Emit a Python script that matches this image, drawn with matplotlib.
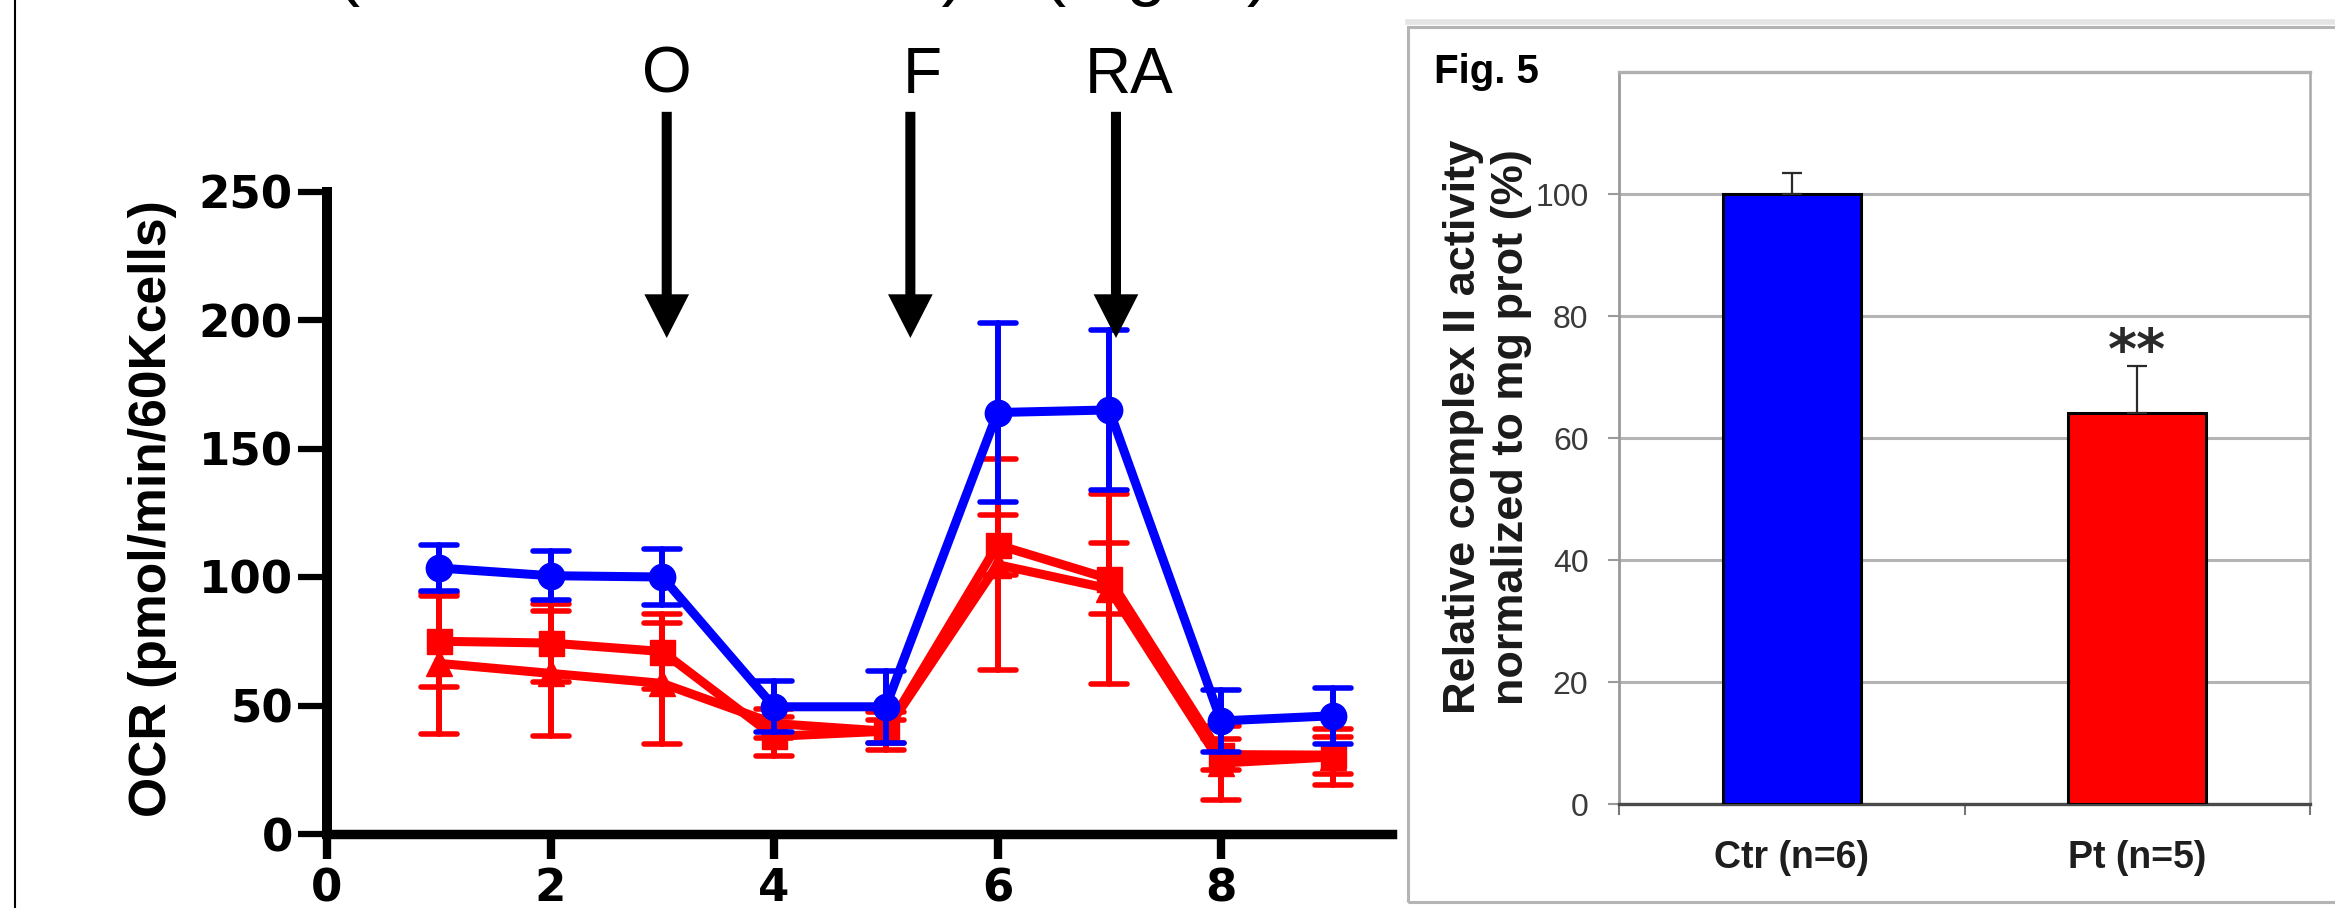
import matplotlib
matplotlib.use('Agg')
import matplotlib.pyplot as plt
from matplotlib.markers import MarkerStyle
from matplotlib.lines import Line2D
from matplotlib.patches import Rectangle

plt.rcParams['font.family'] = ['Liberation Sans', 'DejaVu Sans']

W, H = 2335, 908
DPI = 100

# ---------------- Left panel data (OCR, Seahorse trace) ----------------
timepoints = [1, 2, 3, 4, 5, 6, 7, 8, 9]
ctr_ocr = [103.5, 100.5, 100.0, 49.5, 49.5, 164, 165, 44, 46]
ctr_sem = [9, 9.5, 11, 10, 14, 35, 31, 12, 11]
pt_sq_ocr = [75, 74.3, 71, 38, 40, 112.5, 99.3, 30.9, 30.7]
pt_sq_sem = [17.7, 15, 14.5, 7.5, 7.3, 11.7, 13.8, 6, 7.2]
pt_tri_ocr = [66.4, 62.5, 58.6, 43, 40, 104.8, 95.4, 27.6, 30]
pt_tri_sem = [27.5, 24.3, 23.6, 5.5, 4.5, 41, 37, 14.4, 10.8]

ocr_yticks = [0, 50, 100, 150, 200, 250]
ocr_xticks = [0, 2, 4, 6, 8]
ocr_ylabel = 'OCR (pmol/min/60Kcells)'
injection_labels = ['O', 'F', 'RA']
injection_x = [3.04, 5.22, 7.06]
injection_label_x = [3.04, 5.33, 7.18]
title_parts = ['(Mitochondrial Test)', '(Fig. 4)']

# ---------------- Right panel data (complex II activity) ----------------
groups = ['Ctr (n=6)', 'Pt (n=5)']
activity = [100, 64.1]
activity_err = [3.4, 7.7]
activity_colors = ['#0000ff', '#ff0000']
activity_yticks = [0, 20, 40, 60, 80, 100]
activity_ylabel = ['Relative complex II activity', 'normalized to mg prot (%)']
signif = '**'

fig = plt.figure(figsize=(W / DPI, H / DPI), dpi=DPI)


def fx(px):
    return px / W


def fy(py):
    return 1 - py / H


# ======================= Left panel =======================
ax = fig.add_axes([fx(327), fy(834), fx(1392) - fx(327), fy(191.5) - fy(834)])
ax.set_xlim(0, 9.53)
ax.set_ylim(0, 250)
for s in ['top', 'right']:
    ax.spines[s].set_visible(False)
ax.spines['left'].set_linewidth(7.2)
ax.spines['bottom'].set_linewidth(6.8)
ax.set_xticks(ocr_xticks)
ax.set_yticks(ocr_yticks)
ax.tick_params(axis='y', direction='out', length=21, width=4.5, pad=3.5, labelsize=32.5)
ax.tick_params(axis='x', direction='out', length=18, width=6, pad=6, labelsize=32.5)
for lbl in ax.get_xticklabels() + ax.get_yticklabels():
    lbl.set_fontfamily('DejaVu Sans')
    lbl.set_fontweight('bold')

series = [
    (pt_tri_ocr, pt_tri_sem, '#ff0000', '^', 19, 2),
    (pt_sq_ocr, pt_sq_sem, '#ff0000', 's', 18, 3),
    (ctr_ocr, ctr_sem, '#0000ff', 'o', 19, 4),
]
for vals, err, col, mk, ms, z in series:
    eb = ax.errorbar(timepoints, vals, yerr=err, color=col, marker=mk, ms=ms,
                     mec=col, mfc=col, lw=6.5, elinewidth=4.3, capsize=13.3,
                     capthick=4, clip_on=False, zorder=z)
    for cap in eb[1]:
        cap.set_marker(MarkerStyle('_', capstyle='round'))
        cap.set_clip_on(False)
    for bl in eb[2]:
        bl.set_capstyle('round')
        bl.set_clip_on(False)

for x, lx, lab in zip(injection_x, injection_label_x, injection_labels):
    ax.arrow(x, 281, 0, -(281 - 193), width=0.09, head_width=0.40, head_length=17,
             length_includes_head=True, fc='black', ec='black', lw=0,
             clip_on=False, zorder=6)
    ax.text(lx, 288.5, lab, ha='center', va='baseline', fontsize=46,
            color='black', clip_on=False)

fig.text(fx(153), fy(509), ocr_ylabel, rotation=90, ha='center', va='center',
         fontsize=37.2, fontweight='bold', color='black')

# partially visible title line (cut by the top edge, only descenders show)
fig.text(fx(336), 1 + 8 / H, title_parts[0], ha='left', va='baseline', fontsize=52)
fig.text(fx(1042), 1 + 8 / H, title_parts[1], ha='left', va='baseline', fontsize=52)

# left frame line
fig.add_artist(Line2D([fx(15), fx(15)], [0, 1], transform=fig.transFigure,
                      color='black', lw=1.5))

# ======================= Right panel =======================
fig.add_artist(Line2D([fx(1408), 1.01], [fy(22), fy(22)], transform=fig.transFigure,
                      color='#e4e4e4', lw=4))
fig.add_artist(Rectangle((fx(1408), fy(902)), fx(2350) - fx(1408), fy(27) - fy(902),
                         transform=fig.transFigure, fill=False, ec='#b4b4b4', lw=2.2))

ax2 = fig.add_axes([fx(1619), fy(804), fx(2310) - fx(1619), fy(72) - fy(804)])
ax2.set_xlim(-0.5, 1.5)
ax2.set_ylim(0, 120)
xpos = list(range(len(groups)))
ax2.bar(xpos, activity, width=0.4, color=activity_colors, edgecolor='black',
        linewidth=2.2, zorder=3)
eb2 = ax2.errorbar(xpos, activity, yerr=[[0] * len(activity), activity_err], fmt='none',
                   ecolor='#2a2a2a', elinewidth=1.6, capsize=7, capthick=1.6, zorder=4)
ax2.set_yticks(activity_yticks)
ax2.yaxis.grid(True, color='#b4b4b4', lw=2.2)
ax2.set_axisbelow(True)
ax2.spines['left'].set_color('#9a9a9a')
ax2.spines['left'].set_linewidth(2)
ax2.spines['bottom'].set_color('#4a4a4a')
ax2.spines['bottom'].set_linewidth(2.4)
ax2.spines['top'].set_color('#b0b0b0')
ax2.spines['top'].set_linewidth(2.4)
ax2.spines['right'].set_color('#a8a8a8')
ax2.spines['right'].set_linewidth(1.8)
ax2.tick_params(axis='y', direction='out', length=8, width=1.5, color='#9a9a9a',
                labelsize=23, labelcolor='#3a3a3a', pad=14)
ax2.set_xticks(xpos)
ax2.set_xticklabels(groups, fontsize=27, fontweight='bold', color='#1e1e1e')
ax2.set_xticks([-0.5, 0.5, 1.5], minor=True)
ax2.tick_params(axis='x', which='major', length=0, pad=26)
ax2.tick_params(axis='x', which='minor', direction='out', length=8, width=1.5, color='#777777')

ax2.text(xpos[1], 71.5, signif, ha='center', va='baseline', fontsize=40,
         fontweight='bold', color='#2a2a2a', family='DejaVu Sans')

fig.text(fx(1434), fy(83), 'Fig. 5', ha='left', va='baseline', fontsize=29,
         fontweight='bold', color='black')
fig.text(fx(1463), fy(427), activity_ylabel[0], rotation=90, ha='center', va='center',
         fontsize=32.5, fontweight='bold', color='#1a1a1a')
fig.text(fx(1511), fy(427), activity_ylabel[1], rotation=90, ha='center', va='center',
         fontsize=32.5, fontweight='bold', color='#1a1a1a')

fig.savefig('out.png', dpi=DPI)
